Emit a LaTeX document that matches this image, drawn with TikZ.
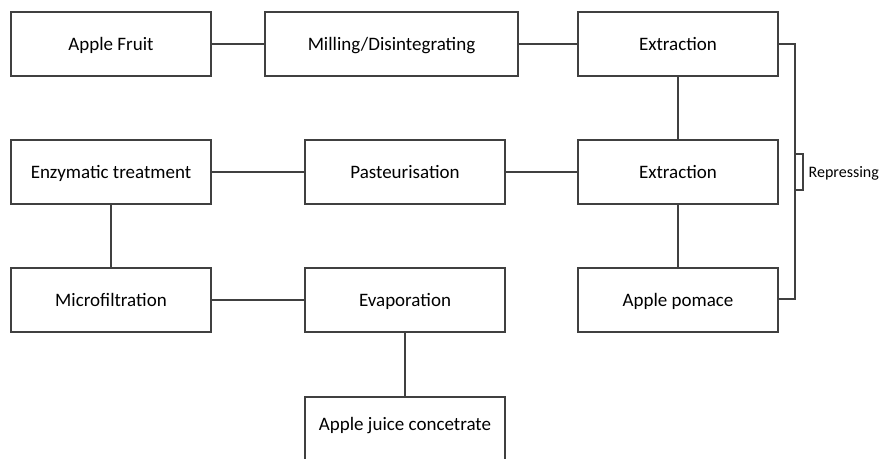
\documentclass[tikz,border=0pt]{standalone}
\usepackage{fontspec}
\setmainfont{Carlito}
\begin{document}
\begin{tikzpicture}[x=1pt,y=-1pt,
  line width=1.3pt, draw={rgb,255:red,64;green,64;blue,64},
  label/.style={inner sep=0pt, text height=13pt, text depth=0.5pt,
    font=\fontsize{19}{23}\selectfont, text=black},
  stepbox/.style={draw, rectangle, minimum width=200pt, minimum height=64pt,
    label, inner sep=0pt},
  wide/.style={minimum width=253pt},
  link/.style={draw}]
\useasboundingbox (0,0) rectangle (880,458);
\clip (0,0) rectangle (880,458);
% row 1
\node[stepbox] (fruit) at (111,44) {Apple Fruit};
\node[stepbox,wide] (mill) at (391.5,44) {Milling/Disintegrating};
\node[stepbox] (ext1) at (678,44) {Extraction};
% row 2
\node[stepbox] (enz) at (111,172) {Enzymatic treatment};
\node[stepbox] (past) at (405,172) {Pasteurisation};
\node[stepbox] (ext2) at (678,172) {Extraction};
% row 3
\node[stepbox] (micro) at (111,300) {Microfiltration};
\node[stepbox] (evap) at (405,300) {Evaporation};
\node[stepbox] (pomace) at (678,300) {Apple pomace};
% final product, running past the lower edge
\node[draw, rectangle, minimum width=200pt, minimum height=80pt, inner sep=0pt] (conc) at (405,437) {};
\node[label] (conctext) at (405,424) {Apple juice concetrate};
% connectors
\draw[link] (fruit.east) -- (mill.west);
\draw[link] (mill.east) -- (ext1.west);
\draw[link] (ext1.south) -- (ext2.north);
\draw[link] (ext2.west) -- (past.east);
\draw[link] (past.west) -- (enz.east);
\draw[link] (enz.south) -- (micro.north);
\draw[link] (micro.east) -- (evap.west);
\draw[link] (evap.south) -- (conc.north);
\draw[link] (ext2.south) -- (pomace.north);
% repressing bracket
\coordinate (rtop) at (795,44);
\coordinate (rbot) at (795,299);
\draw[link] (ext1.east) -- (rtop) -- (rbot) -- (pomace.east |- rbot);
\coordinate (tabtop) at (795,154);
\coordinate (tabbot) at (795,190);
\draw[link] (tabtop) -- ++(8,0) |- (tabbot);
\node[anchor=west, inner sep=0pt, font=\fontsize{16}{19}\selectfont, text=black] (rep) at (808,173) {Repressing};
\end{tikzpicture}
\end{document}
